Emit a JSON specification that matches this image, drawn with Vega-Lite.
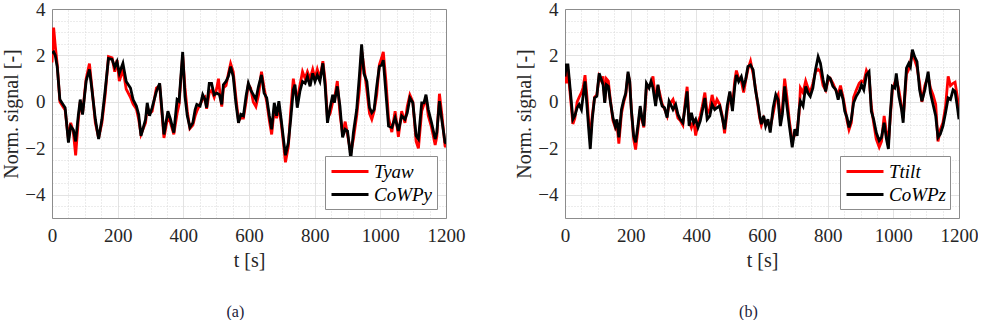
{
  "$schema": "https://vega.github.io/schema/vega-lite/v6.json",
  "padding": {"left": 1, "top": 0, "right": 0, "bottom": 0},
  "background": "white",
  "config": {
    "font": "Liberation Serif",
    "view": {"stroke": null},
    "axis": {"labelFont": "Liberation Serif", "titleFont": "Liberation Serif", "labelColor": "#262626", "titleColor": "#262626", "titleFontWeight": "normal", "domainColor": "#8c8c8c", "ticks": false, "tickSize": 0},
    "legend": {"orient": "bottom-right", "offset": 9, "fillColor": "white", "strokeColor": "#8c8c8c", "padding": 4, "labelFont": "Liberation Serif", "labelFontStyle": "italic", "labelFontSize": 19, "labelColor": "#000", "symbolType": "M-0.9,0L2.8,0", "symbolSize": 400, "symbolStrokeWidth": 3, "labelOffset": 22, "rowPadding": 1, "title": null, "labelLimit": 200}
  },
  "datasets": {
    "a": [
      {"s":"Tyaw","t":0,"v":1.7},{"s":"Tyaw","t":5,"v":3.2},{"s":"Tyaw","t":10,"v":2.4},{"s":"Tyaw","t":16,"v":1.6},{"s":"Tyaw","t":24,"v":0.0},{"s":"Tyaw","t":33,"v":-0.2},{"s":"Tyaw","t":40,"v":-0.35},{"s":"Tyaw","t":50,"v":-1.6},{"s":"Tyaw","t":57,"v":-0.9},{"s":"Tyaw","t":65,"v":-1.3},{"s":"Tyaw","t":72,"v":-2.3},{"s":"Tyaw","t":80,"v":-0.8},{"s":"Tyaw","t":86,"v":0.0},{"s":"Tyaw","t":93,"v":-0.5},{"s":"Tyaw","t":104,"v":1.0},{"s":"Tyaw","t":114,"v":1.65},{"s":"Tyaw","t":121,"v":0.7},{"s":"Tyaw","t":132,"v":-0.9},{"s":"Tyaw","t":142,"v":-1.55},{"s":"Tyaw","t":152,"v":-0.9},{"s":"Tyaw","t":162,"v":0.3},{"s":"Tyaw","t":172,"v":1.95},{"s":"Tyaw","t":183,"v":1.9},{"s":"Tyaw","t":191,"v":1.3},{"s":"Tyaw","t":198,"v":1.8},{"s":"Tyaw","t":205,"v":0.9},{"s":"Tyaw","t":216,"v":1.4},{"s":"Tyaw","t":226,"v":0.55},{"s":"Tyaw","t":239,"v":0.2},{"s":"Tyaw","t":247,"v":-0.1},{"s":"Tyaw","t":257,"v":-0.3},{"s":"Tyaw","t":264,"v":-0.75},{"s":"Tyaw","t":271,"v":-1.4},{"s":"Tyaw","t":285,"v":-0.9},{"s":"Tyaw","t":290,"v":-0.2},{"s":"Tyaw","t":297,"v":-0.5},{"s":"Tyaw","t":305,"v":-0.4},{"s":"Tyaw","t":318,"v":0.6},{"s":"Tyaw","t":328,"v":0.7},{"s":"Tyaw","t":341,"v":-1.55},{"s":"Tyaw","t":353,"v":-0.6},{"s":"Tyaw","t":361,"v":-0.9},{"s":"Tyaw","t":371,"v":-1.4},{"s":"Tyaw","t":381,"v":-0.5},{"s":"Tyaw","t":387,"v":-0.1},{"s":"Tyaw","t":398,"v":2.0},{"s":"Tyaw","t":405,"v":0.6},{"s":"Tyaw","t":412,"v":-0.4},{"s":"Tyaw","t":420,"v":-1.15},{"s":"Tyaw","t":429,"v":-1.0},{"s":"Tyaw","t":436,"v":-0.6},{"s":"Tyaw","t":441,"v":-0.4},{"s":"Tyaw","t":451,"v":-0.1},{"s":"Tyaw","t":459,"v":0.1},{"s":"Tyaw","t":466,"v":0.2},{"s":"Tyaw","t":471,"v":-0.3},{"s":"Tyaw","t":479,"v":0.4},{"s":"Tyaw","t":486,"v":0.5},{"s":"Tyaw","t":494,"v":0.2},{"s":"Tyaw","t":502,"v":0.6},{"s":"Tyaw","t":507,"v":1.0},{"s":"Tyaw","t":512,"v":0.3},{"s":"Tyaw","t":517,"v":-0.2},{"s":"Tyaw","t":522,"v":0.6},{"s":"Tyaw","t":530,"v":0.7},{"s":"Tyaw","t":537,"v":1.2},{"s":"Tyaw","t":544,"v":1.65},{"s":"Tyaw","t":552,"v":1.3},{"s":"Tyaw","t":560,"v":0.2},{"s":"Tyaw","t":568,"v":-0.8},{"s":"Tyaw","t":575,"v":-0.7},{"s":"Tyaw","t":583,"v":-0.7},{"s":"Tyaw","t":591,"v":0.0},{"s":"Tyaw","t":598,"v":0.75},{"s":"Tyaw","t":605,"v":0.6},{"s":"Tyaw","t":613,"v":0.0},{"s":"Tyaw","t":621,"v":-0.2},{"s":"Tyaw","t":629,"v":0.3},{"s":"Tyaw","t":638,"v":1.3},{"s":"Tyaw","t":646,"v":0.6},{"s":"Tyaw","t":654,"v":0.0},{"s":"Tyaw","t":662,"v":-0.8},{"s":"Tyaw","t":669,"v":-1.4},{"s":"Tyaw","t":677,"v":-0.3},{"s":"Tyaw","t":684,"v":-0.7},{"s":"Tyaw","t":691,"v":-0.2},{"s":"Tyaw","t":698,"v":-0.9},{"s":"Tyaw","t":705,"v":-1.8},{"s":"Tyaw","t":711,"v":-2.6},{"s":"Tyaw","t":720,"v":-1.9},{"s":"Tyaw","t":727,"v":-0.4},{"s":"Tyaw","t":735,"v":1.0},{"s":"Tyaw","t":740,"v":0.5},{"s":"Tyaw","t":747,"v":0.1},{"s":"Tyaw","t":755,"v":0.7},{"s":"Tyaw","t":763,"v":1.3},{"s":"Tyaw","t":771,"v":1.0},{"s":"Tyaw","t":778,"v":1.3},{"s":"Tyaw","t":786,"v":1.0},{"s":"Tyaw","t":794,"v":1.4},{"s":"Tyaw","t":801,"v":1.0},{"s":"Tyaw","t":808,"v":1.4},{"s":"Tyaw","t":816,"v":1.0},{"s":"Tyaw","t":825,"v":1.75},{"s":"Tyaw","t":832,"v":0.9},{"s":"Tyaw","t":839,"v":-0.7},{"s":"Tyaw","t":847,"v":-0.5},{"s":"Tyaw","t":855,"v":0.0},{"s":"Tyaw","t":860,"v":0.1},{"s":"Tyaw","t":869,"v":0.9},{"s":"Tyaw","t":877,"v":-0.5},{"s":"Tyaw","t":885,"v":-1.4},{"s":"Tyaw","t":893,"v":-0.85},{"s":"Tyaw","t":900,"v":-1.4},{"s":"Tyaw","t":910,"v":-2.2},{"s":"Tyaw","t":918,"v":-1.6},{"s":"Tyaw","t":928,"v":-0.6},{"s":"Tyaw","t":936,"v":0.5},{"s":"Tyaw","t":943,"v":2.2},{"s":"Tyaw","t":950,"v":1.5},{"s":"Tyaw","t":959,"v":0.5},{"s":"Tyaw","t":967,"v":-0.5},{"s":"Tyaw","t":974,"v":-0.75},{"s":"Tyaw","t":981,"v":-0.4},{"s":"Tyaw","t":989,"v":0.3},{"s":"Tyaw","t":997,"v":1.6},{"s":"Tyaw","t":1004,"v":1.9},{"s":"Tyaw","t":1009,"v":2.15},{"s":"Tyaw","t":1017,"v":0.9},{"s":"Tyaw","t":1025,"v":-0.7},{"s":"Tyaw","t":1035,"v":-1.3},{"s":"Tyaw","t":1045,"v":-0.4},{"s":"Tyaw","t":1055,"v":-1.5},{"s":"Tyaw","t":1065,"v":-0.4},{"s":"Tyaw","t":1075,"v":-0.9},{"s":"Tyaw","t":1082,"v":-0.2},{"s":"Tyaw","t":1090,"v":0.3},{"s":"Tyaw","t":1099,"v":0.0},{"s":"Tyaw","t":1109,"v":-1.7},{"s":"Tyaw","t":1116,"v":-2.0},{"s":"Tyaw","t":1126,"v":-0.4},{"s":"Tyaw","t":1133,"v":-0.1},{"s":"Tyaw","t":1139,"v":0.2},{"s":"Tyaw","t":1146,"v":-0.6},{"s":"Tyaw","t":1156,"v":-1.1},{"s":"Tyaw","t":1167,"v":-1.85},{"s":"Tyaw","t":1172,"v":-1.5},{"s":"Tyaw","t":1180,"v":0.35},{"s":"Tyaw","t":1187,"v":-0.5},{"s":"Tyaw","t":1197,"v":-1.9},{"s":"Tyaw","t":1200,"v":-1.95},
      {"s":"CoWPy","t":0,"v":2.1},{"s":"CoWPy","t":5,"v":2.15},{"s":"CoWPy","t":10,"v":2.0},{"s":"CoWPy","t":16,"v":1.5},{"s":"CoWPy","t":24,"v":0.1},{"s":"CoWPy","t":33,"v":-0.1},{"s":"CoWPy","t":40,"v":-0.25},{"s":"CoWPy","t":50,"v":-1.75},{"s":"CoWPy","t":57,"v":-1.05},{"s":"CoWPy","t":65,"v":-1.2},{"s":"CoWPy","t":72,"v":-1.7},{"s":"CoWPy","t":80,"v":-0.6},{"s":"CoWPy","t":86,"v":0.1},{"s":"CoWPy","t":93,"v":-0.55},{"s":"CoWPy","t":104,"v":0.9},{"s":"CoWPy","t":114,"v":1.4},{"s":"CoWPy","t":121,"v":0.6},{"s":"CoWPy","t":132,"v":-0.75},{"s":"CoWPy","t":142,"v":-1.6},{"s":"CoWPy","t":152,"v":-0.75},{"s":"CoWPy","t":162,"v":0.5},{"s":"CoWPy","t":172,"v":1.87},{"s":"CoWPy","t":183,"v":1.83},{"s":"CoWPy","t":191,"v":1.5},{"s":"CoWPy","t":198,"v":1.73},{"s":"CoWPy","t":205,"v":1.23},{"s":"CoWPy","t":216,"v":1.66},{"s":"CoWPy","t":226,"v":0.88},{"s":"CoWPy","t":239,"v":0.6},{"s":"CoWPy","t":247,"v":0.1},{"s":"CoWPy","t":257,"v":-0.18},{"s":"CoWPy","t":264,"v":-0.54},{"s":"CoWPy","t":271,"v":-1.46},{"s":"CoWPy","t":285,"v":-0.75},{"s":"CoWPy","t":290,"v":-0.04},{"s":"CoWPy","t":297,"v":-0.6},{"s":"CoWPy","t":305,"v":-0.25},{"s":"CoWPy","t":318,"v":0.45},{"s":"CoWPy","t":328,"v":0.8},{"s":"CoWPy","t":341,"v":-1.4},{"s":"CoWPy","t":353,"v":-0.4},{"s":"CoWPy","t":361,"v":-0.75},{"s":"CoWPy","t":371,"v":-1.32},{"s":"CoWPy","t":381,"v":0.1},{"s":"CoWPy","t":387,"v":0.03},{"s":"CoWPy","t":398,"v":2.15},{"s":"CoWPy","t":405,"v":0.24},{"s":"CoWPy","t":412,"v":-0.6},{"s":"CoWPy","t":420,"v":-1.1},{"s":"CoWPy","t":429,"v":-0.9},{"s":"CoWPy","t":436,"v":-0.33},{"s":"CoWPy","t":441,"v":-0.11},{"s":"CoWPy","t":451,"v":-0.18},{"s":"CoWPy","t":459,"v":0.31},{"s":"CoWPy","t":466,"v":0.1},{"s":"CoWPy","t":471,"v":-0.25},{"s":"CoWPy","t":479,"v":0.8},{"s":"CoWPy","t":486,"v":0.8},{"s":"CoWPy","t":494,"v":0.31},{"s":"CoWPy","t":502,"v":0.38},{"s":"CoWPy","t":510,"v":0.31},{"s":"CoWPy","t":517,"v":-0.11},{"s":"CoWPy","t":522,"v":0.74},{"s":"CoWPy","t":530,"v":0.88},{"s":"CoWPy","t":537,"v":1.09},{"s":"CoWPy","t":544,"v":1.52},{"s":"CoWPy","t":552,"v":1.09},{"s":"CoWPy","t":560,"v":-0.04},{"s":"CoWPy","t":568,"v":-0.9},{"s":"CoWPy","t":575,"v":-0.54},{"s":"CoWPy","t":583,"v":-0.6},{"s":"CoWPy","t":591,"v":0.24},{"s":"CoWPy","t":598,"v":0.8},{"s":"CoWPy","t":605,"v":0.52},{"s":"CoWPy","t":613,"v":0.31},{"s":"CoWPy","t":621,"v":0.1},{"s":"CoWPy","t":629,"v":0.67},{"s":"CoWPy","t":638,"v":1.16},{"s":"CoWPy","t":646,"v":0.38},{"s":"CoWPy","t":654,"v":0.17},{"s":"CoWPy","t":662,"v":-0.6},{"s":"CoWPy","t":669,"v":-1.18},{"s":"CoWPy","t":677,"v":-0.04},{"s":"CoWPy","t":684,"v":-0.6},{"s":"CoWPy","t":691,"v":0.03},{"s":"CoWPy","t":698,"v":-0.75},{"s":"CoWPy","t":705,"v":-1.6},{"s":"CoWPy","t":711,"v":-2.3},{"s":"CoWPy","t":720,"v":-1.74},{"s":"CoWPy","t":727,"v":-0.75},{"s":"CoWPy","t":735,"v":0.52},{"s":"CoWPy","t":740,"v":0.74},{"s":"CoWPy","t":747,"v":-0.25},{"s":"CoWPy","t":755,"v":0.45},{"s":"CoWPy","t":763,"v":0.88},{"s":"CoWPy","t":771,"v":0.8},{"s":"CoWPy","t":778,"v":1.09},{"s":"CoWPy","t":786,"v":0.67},{"s":"CoWPy","t":794,"v":1.23},{"s":"CoWPy","t":801,"v":0.88},{"s":"CoWPy","t":808,"v":1.16},{"s":"CoWPy","t":816,"v":0.88},{"s":"CoWPy","t":825,"v":1.66},{"s":"CoWPy","t":832,"v":0.67},{"s":"CoWPy","t":839,"v":-0.9},{"s":"CoWPy","t":847,"v":-0.25},{"s":"CoWPy","t":855,"v":0.31},{"s":"CoWPy","t":860,"v":-0.04},{"s":"CoWPy","t":869,"v":0.67},{"s":"CoWPy","t":877,"v":-0.18},{"s":"CoWPy","t":885,"v":-1.53},{"s":"CoWPy","t":893,"v":-1.18},{"s":"CoWPy","t":900,"v":-1.25},{"s":"CoWPy","t":910,"v":-2.45},{"s":"CoWPy","t":918,"v":-1.32},{"s":"CoWPy","t":928,"v":-0.33},{"s":"CoWPy","t":936,"v":1.09},{"s":"CoWPy","t":943,"v":2.48},{"s":"CoWPy","t":950,"v":1.23},{"s":"CoWPy","t":959,"v":0.88},{"s":"CoWPy","t":967,"v":-0.25},{"s":"CoWPy","t":974,"v":-0.47},{"s":"CoWPy","t":981,"v":-0.33},{"s":"CoWPy","t":989,"v":0.67},{"s":"CoWPy","t":997,"v":1.52},{"s":"CoWPy","t":1004,"v":1.59},{"s":"CoWPy","t":1009,"v":1.8},{"s":"CoWPy","t":1017,"v":0.38},{"s":"CoWPy","t":1025,"v":-1.04},{"s":"CoWPy","t":1035,"v":-1.1},{"s":"CoWPy","t":1045,"v":-0.68},{"s":"CoWPy","t":1055,"v":-1.25},{"s":"CoWPy","t":1065,"v":-0.6},{"s":"CoWPy","t":1075,"v":-0.75},{"s":"CoWPy","t":1082,"v":-0.47},{"s":"CoWPy","t":1090,"v":0.17},{"s":"CoWPy","t":1099,"v":-0.04},{"s":"CoWPy","t":1109,"v":-1.46},{"s":"CoWPy","t":1116,"v":-1.6},{"s":"CoWPy","t":1126,"v":-0.04},{"s":"CoWPy","t":1133,"v":-0.04},{"s":"CoWPy","t":1139,"v":0.31},{"s":"CoWPy","t":1146,"v":-0.33},{"s":"CoWPy","t":1156,"v":-0.9},{"s":"CoWPy","t":1167,"v":-1.6},{"s":"CoWPy","t":1172,"v":-1.32},{"s":"CoWPy","t":1180,"v":0.03},{"s":"CoWPy","t":1187,"v":-0.75},{"s":"CoWPy","t":1197,"v":-1.74},{"s":"CoWPy","t":1200,"v":-1.8}
    ],
    "b": [
      {"s":"Ttilt","t":0,"v":1.3},{"s":"Ttilt","t":4,"v":0.8},{"s":"Ttilt","t":9,"v":1.4},{"s":"Ttilt","t":16,"v":0.3},{"s":"Ttilt","t":24,"v":-0.95},{"s":"Ttilt","t":30,"v":-0.7},{"s":"Ttilt","t":37,"v":0.0},{"s":"Ttilt","t":43,"v":0.2},{"s":"Ttilt","t":50,"v":0.4},{"s":"Ttilt","t":55,"v":0.6},{"s":"Ttilt","t":61,"v":1.15},{"s":"Ttilt","t":67,"v":0.2},{"s":"Ttilt","t":73,"v":-1.0},{"s":"Ttilt","t":77,"v":-1.6},{"s":"Ttilt","t":83,"v":-0.6},{"s":"Ttilt","t":90,"v":0.2},{"s":"Ttilt","t":97,"v":0.3},{"s":"Ttilt","t":104,"v":1.1},{"s":"Ttilt","t":111,"v":0.9},{"s":"Ttilt","t":116,"v":1.1},{"s":"Ttilt","t":121,"v":0.0},{"s":"Ttilt","t":126,"v":1.0},{"s":"Ttilt","t":132,"v":0.9},{"s":"Ttilt","t":138,"v":0.1},{"s":"Ttilt","t":146,"v":-0.8},{"s":"Ttilt","t":153,"v":-1.1},{"s":"Ttilt","t":158,"v":-0.9},{"s":"Ttilt","t":164,"v":-1.8},{"s":"Ttilt","t":172,"v":-0.5},{"s":"Ttilt","t":179,"v":0.0},{"s":"Ttilt","t":185,"v":0.3},{"s":"Ttilt","t":192,"v":1.2},{"s":"Ttilt","t":197,"v":0.9},{"s":"Ttilt","t":202,"v":-0.3},{"s":"Ttilt","t":209,"v":-1.6},{"s":"Ttilt","t":215,"v":-2.05},{"s":"Ttilt","t":222,"v":-1.2},{"s":"Ttilt","t":229,"v":-0.3},{"s":"Ttilt","t":235,"v":-0.8},{"s":"Ttilt","t":240,"v":-1.1},{"s":"Ttilt","t":248,"v":0.6},{"s":"Ttilt","t":256,"v":0.7},{"s":"Ttilt","t":262,"v":0.7},{"s":"Ttilt","t":268,"v":1.1},{"s":"Ttilt","t":276,"v":0.0},{"s":"Ttilt","t":283,"v":0.7},{"s":"Ttilt","t":288,"v":0.4},{"s":"Ttilt","t":296,"v":-0.1},{"s":"Ttilt","t":303,"v":-0.3},{"s":"Ttilt","t":311,"v":-0.6},{"s":"Ttilt","t":317,"v":-0.1},{"s":"Ttilt","t":324,"v":0.0},{"s":"Ttilt","t":329,"v":0.1},{"s":"Ttilt","t":337,"v":-0.3},{"s":"Ttilt","t":344,"v":-0.7},{"s":"Ttilt","t":351,"v":-0.8},{"s":"Ttilt","t":359,"v":-1.0},{"s":"Ttilt","t":367,"v":0.1},{"s":"Ttilt","t":372,"v":0.65},{"s":"Ttilt","t":378,"v":-0.8},{"s":"Ttilt","t":385,"v":-1.1},{"s":"Ttilt","t":392,"v":-0.8},{"s":"Ttilt","t":398,"v":-1.45},{"s":"Ttilt","t":405,"v":-0.9},{"s":"Ttilt","t":412,"v":-0.6},{"s":"Ttilt","t":418,"v":-0.2},{"s":"Ttilt","t":426,"v":0.4},{"s":"Ttilt","t":433,"v":-0.5},{"s":"Ttilt","t":441,"v":-0.3},{"s":"Ttilt","t":448,"v":0.3},{"s":"Ttilt","t":456,"v":-0.2},{"s":"Ttilt","t":463,"v":0.1},{"s":"Ttilt","t":471,"v":-0.1},{"s":"Ttilt","t":479,"v":-0.6},{"s":"Ttilt","t":486,"v":-1.35},{"s":"Ttilt","t":494,"v":-0.4},{"s":"Ttilt","t":502,"v":0.4},{"s":"Ttilt","t":510,"v":-0.2},{"s":"Ttilt","t":517,"v":0.9},{"s":"Ttilt","t":522,"v":1.35},{"s":"Ttilt","t":529,"v":1.0},{"s":"Ttilt","t":537,"v":0.9},{"s":"Ttilt","t":544,"v":0.4},{"s":"Ttilt","t":550,"v":0.9},{"s":"Ttilt","t":557,"v":1.4},{"s":"Ttilt","t":565,"v":1.75},{"s":"Ttilt","t":573,"v":1.2},{"s":"Ttilt","t":580,"v":0.6},{"s":"Ttilt","t":588,"v":-0.2},{"s":"Ttilt","t":593,"v":-0.7},{"s":"Ttilt","t":598,"v":-1.0},{"s":"Ttilt","t":605,"v":-0.7},{"s":"Ttilt","t":611,"v":-0.9},{"s":"Ttilt","t":618,"v":-0.9},{"s":"Ttilt","t":625,"v":-1.1},{"s":"Ttilt","t":634,"v":-0.5},{"s":"Ttilt","t":642,"v":0.1},{"s":"Ttilt","t":649,"v":0.3},{"s":"Ttilt","t":656,"v":-0.8},{"s":"Ttilt","t":662,"v":-0.3},{"s":"Ttilt","t":669,"v":1.0},{"s":"Ttilt","t":676,"v":0.2},{"s":"Ttilt","t":684,"v":-0.9},{"s":"Ttilt","t":692,"v":-1.7},{"s":"Ttilt","t":700,"v":-1.4},{"s":"Ttilt","t":707,"v":-1.2},{"s":"Ttilt","t":713,"v":-0.5},{"s":"Ttilt","t":717,"v":0.6},{"s":"Ttilt","t":725,"v":0.4},{"s":"Ttilt","t":733,"v":0.9},{"s":"Ttilt","t":740,"v":0.6},{"s":"Ttilt","t":747,"v":0.4},{"s":"Ttilt","t":755,"v":0.8},{"s":"Ttilt","t":763,"v":1.3},{"s":"Ttilt","t":771,"v":1.4},{"s":"Ttilt","t":778,"v":1.3},{"s":"Ttilt","t":786,"v":0.7},{"s":"Ttilt","t":794,"v":0.5},{"s":"Ttilt","t":801,"v":0.9},{"s":"Ttilt","t":808,"v":1.0},{"s":"Ttilt","t":816,"v":0.8},{"s":"Ttilt","t":825,"v":0.5},{"s":"Ttilt","t":832,"v":0.3},{"s":"Ttilt","t":839,"v":0.7},{"s":"Ttilt","t":847,"v":0.2},{"s":"Ttilt","t":852,"v":-0.2},{"s":"Ttilt","t":859,"v":-0.8},{"s":"Ttilt","t":865,"v":-1.2},{"s":"Ttilt","t":872,"v":-0.9},{"s":"Ttilt","t":879,"v":0.2},{"s":"Ttilt","t":887,"v":0.5},{"s":"Ttilt","t":896,"v":0.8},{"s":"Ttilt","t":903,"v":0.9},{"s":"Ttilt","t":910,"v":0.85},{"s":"Ttilt","t":918,"v":1.35},{"s":"Ttilt","t":926,"v":1.1},{"s":"Ttilt","t":933,"v":-0.2},{"s":"Ttilt","t":940,"v":-0.9},{"s":"Ttilt","t":948,"v":-1.6},{"s":"Ttilt","t":957,"v":-1.95},{"s":"Ttilt","t":964,"v":-1.7},{"s":"Ttilt","t":972,"v":-0.6},{"s":"Ttilt","t":979,"v":-1.3},{"s":"Ttilt","t":985,"v":-1.8},{"s":"Ttilt","t":991,"v":-0.6},{"s":"Ttilt","t":997,"v":0.5},{"s":"Ttilt","t":1004,"v":0.8},{"s":"Ttilt","t":1009,"v":1.0},{"s":"Ttilt","t":1017,"v":0.5},{"s":"Ttilt","t":1025,"v":-0.2},{"s":"Ttilt","t":1030,"v":-0.7},{"s":"Ttilt","t":1035,"v":0.2},{"s":"Ttilt","t":1040,"v":1.2},{"s":"Ttilt","t":1047,"v":1.4},{"s":"Ttilt","t":1052,"v":1.7},{"s":"Ttilt","t":1058,"v":2.15},{"s":"Ttilt","t":1065,"v":1.8},{"s":"Ttilt","t":1072,"v":1.5},{"s":"Ttilt","t":1080,"v":0.8},{"s":"Ttilt","t":1087,"v":0.0},{"s":"Ttilt","t":1096,"v":0.7},{"s":"Ttilt","t":1106,"v":1.1},{"s":"Ttilt","t":1113,"v":0.6},{"s":"Ttilt","t":1121,"v":0.3},{"s":"Ttilt","t":1129,"v":-0.1},{"s":"Ttilt","t":1136,"v":-1.7},{"s":"Ttilt","t":1143,"v":-1.2},{"s":"Ttilt","t":1151,"v":-0.9},{"s":"Ttilt","t":1159,"v":-0.2},{"s":"Ttilt","t":1167,"v":1.1},{"s":"Ttilt","t":1174,"v":0.7},{"s":"Ttilt","t":1182,"v":0.8},{"s":"Ttilt","t":1188,"v":0.85},{"s":"Ttilt","t":1194,"v":0.3},{"s":"Ttilt","t":1200,"v":-0.3},
      {"s":"CoWPz","t":0,"v":1.09},{"s":"CoWPz","t":4,"v":1.59},{"s":"CoWPz","t":9,"v":1.59},{"s":"CoWPz","t":16,"v":0.52},{"s":"CoWPz","t":24,"v":-0.75},{"s":"CoWPz","t":30,"v":-0.6},{"s":"CoWPz","t":37,"v":-0.25},{"s":"CoWPz","t":43,"v":-0.11},{"s":"CoWPz","t":50,"v":-0.33},{"s":"CoWPz","t":55,"v":0.24},{"s":"CoWPz","t":61,"v":0.88},{"s":"CoWPz","t":67,"v":-0.18},{"s":"CoWPz","t":73,"v":-1.32},{"s":"CoWPz","t":77,"v":-2.03},{"s":"CoWPz","t":83,"v":-0.75},{"s":"CoWPz","t":90,"v":0.17},{"s":"CoWPz","t":97,"v":0.24},{"s":"CoWPz","t":104,"v":1.23},{"s":"CoWPz","t":111,"v":0.95},{"s":"CoWPz","t":116,"v":0.74},{"s":"CoWPz","t":121,"v":-0.04},{"s":"CoWPz","t":126,"v":0.74},{"s":"CoWPz","t":132,"v":0.67},{"s":"CoWPz","t":138,"v":0.03},{"s":"CoWPz","t":146,"v":-0.68},{"s":"CoWPz","t":153,"v":-1.04},{"s":"CoWPz","t":158,"v":-0.75},{"s":"CoWPz","t":164,"v":-1.53},{"s":"CoWPz","t":172,"v":-0.33},{"s":"CoWPz","t":179,"v":0.1},{"s":"CoWPz","t":185,"v":0.38},{"s":"CoWPz","t":192,"v":1.3},{"s":"CoWPz","t":197,"v":0.88},{"s":"CoWPz","t":202,"v":-0.33},{"s":"CoWPz","t":209,"v":-1.46},{"s":"CoWPz","t":215,"v":-1.74},{"s":"CoWPz","t":222,"v":-1.04},{"s":"CoWPz","t":229,"v":-0.18},{"s":"CoWPz","t":235,"v":-0.75},{"s":"CoWPz","t":240,"v":-1.04},{"s":"CoWPz","t":248,"v":0.8},{"s":"CoWPz","t":256,"v":0.6},{"s":"CoWPz","t":262,"v":0.88},{"s":"CoWPz","t":268,"v":0.6},{"s":"CoWPz","t":276,"v":-0.18},{"s":"CoWPz","t":283,"v":0.74},{"s":"CoWPz","t":288,"v":0.24},{"s":"CoWPz","t":296,"v":-0.18},{"s":"CoWPz","t":303,"v":-0.25},{"s":"CoWPz","t":311,"v":-0.68},{"s":"CoWPz","t":317,"v":0.03},{"s":"CoWPz","t":324,"v":-0.18},{"s":"CoWPz","t":329,"v":-0.33},{"s":"CoWPz","t":337,"v":-0.11},{"s":"CoWPz","t":344,"v":-0.54},{"s":"CoWPz","t":351,"v":-0.75},{"s":"CoWPz","t":359,"v":-0.9},{"s":"CoWPz","t":367,"v":-0.11},{"s":"CoWPz","t":372,"v":0.45},{"s":"CoWPz","t":378,"v":-1.04},{"s":"CoWPz","t":385,"v":-0.47},{"s":"CoWPz","t":392,"v":-0.9},{"s":"CoWPz","t":398,"v":-0.75},{"s":"CoWPz","t":405,"v":-1.1},{"s":"CoWPz","t":412,"v":-0.82},{"s":"CoWPz","t":418,"v":-0.4},{"s":"CoWPz","t":426,"v":0.17},{"s":"CoWPz","t":433,"v":-0.75},{"s":"CoWPz","t":441,"v":-0.6},{"s":"CoWPz","t":448,"v":-0.11},{"s":"CoWPz","t":456,"v":-0.33},{"s":"CoWPz","t":463,"v":-0.25},{"s":"CoWPz","t":471,"v":-0.18},{"s":"CoWPz","t":479,"v":-0.68},{"s":"CoWPz","t":486,"v":-1.18},{"s":"CoWPz","t":494,"v":-0.18},{"s":"CoWPz","t":502,"v":0.45},{"s":"CoWPz","t":510,"v":-0.4},{"s":"CoWPz","t":517,"v":0.67},{"s":"CoWPz","t":522,"v":1.16},{"s":"CoWPz","t":529,"v":0.88},{"s":"CoWPz","t":537,"v":1.09},{"s":"CoWPz","t":544,"v":0.67},{"s":"CoWPz","t":550,"v":0.95},{"s":"CoWPz","t":557,"v":1.52},{"s":"CoWPz","t":565,"v":1.59},{"s":"CoWPz","t":573,"v":1.38},{"s":"CoWPz","t":580,"v":0.52},{"s":"CoWPz","t":588,"v":-0.11},{"s":"CoWPz","t":593,"v":-0.6},{"s":"CoWPz","t":598,"v":-0.96},{"s":"CoWPz","t":605,"v":-0.6},{"s":"CoWPz","t":611,"v":-1.04},{"s":"CoWPz","t":618,"v":-0.75},{"s":"CoWPz","t":625,"v":-1.32},{"s":"CoWPz","t":634,"v":-0.25},{"s":"CoWPz","t":642,"v":0.31},{"s":"CoWPz","t":649,"v":0.1},{"s":"CoWPz","t":656,"v":-1.04},{"s":"CoWPz","t":662,"v":-0.54},{"s":"CoWPz","t":669,"v":0.67},{"s":"CoWPz","t":676,"v":-0.18},{"s":"CoWPz","t":684,"v":-1.1},{"s":"CoWPz","t":692,"v":-1.96},{"s":"CoWPz","t":700,"v":-1.18},{"s":"CoWPz","t":707,"v":-1.46},{"s":"CoWPz","t":713,"v":-0.33},{"s":"CoWPz","t":717,"v":0.03},{"s":"CoWPz","t":725,"v":-0.18},{"s":"CoWPz","t":733,"v":0.67},{"s":"CoWPz","t":740,"v":0.38},{"s":"CoWPz","t":747,"v":0.24},{"s":"CoWPz","t":755,"v":0.6},{"s":"CoWPz","t":763,"v":1.38},{"s":"CoWPz","t":771,"v":1.94},{"s":"CoWPz","t":778,"v":1.66},{"s":"CoWPz","t":786,"v":0.95},{"s":"CoWPz","t":794,"v":0.45},{"s":"CoWPz","t":801,"v":1.09},{"s":"CoWPz","t":808,"v":1.0},{"s":"CoWPz","t":816,"v":0.67},{"s":"CoWPz","t":825,"v":0.52},{"s":"CoWPz","t":832,"v":0.1},{"s":"CoWPz","t":839,"v":0.52},{"s":"CoWPz","t":847,"v":0.1},{"s":"CoWPz","t":852,"v":-0.4},{"s":"CoWPz","t":859,"v":-0.68},{"s":"CoWPz","t":865,"v":-1.1},{"s":"CoWPz","t":872,"v":-0.75},{"s":"CoWPz","t":879,"v":-0.04},{"s":"CoWPz","t":887,"v":0.24},{"s":"CoWPz","t":896,"v":0.45},{"s":"CoWPz","t":903,"v":0.74},{"s":"CoWPz","t":910,"v":0.52},{"s":"CoWPz","t":918,"v":1.16},{"s":"CoWPz","t":926,"v":1.3},{"s":"CoWPz","t":933,"v":-0.4},{"s":"CoWPz","t":940,"v":-0.75},{"s":"CoWPz","t":948,"v":-1.32},{"s":"CoWPz","t":957,"v":-1.67},{"s":"CoWPz","t":964,"v":-1.53},{"s":"CoWPz","t":972,"v":-0.9},{"s":"CoWPz","t":979,"v":-1.6},{"s":"CoWPz","t":985,"v":-2.03},{"s":"CoWPz","t":991,"v":-0.47},{"s":"CoWPz","t":997,"v":0.67},{"s":"CoWPz","t":1004,"v":0.6},{"s":"CoWPz","t":1009,"v":1.23},{"s":"CoWPz","t":1017,"v":0.24},{"s":"CoWPz","t":1025,"v":-0.33},{"s":"CoWPz","t":1030,"v":-0.9},{"s":"CoWPz","t":1035,"v":0.38},{"s":"CoWPz","t":1040,"v":1.45},{"s":"CoWPz","t":1047,"v":1.66},{"s":"CoWPz","t":1052,"v":1.52},{"s":"CoWPz","t":1058,"v":2.25},{"s":"CoWPz","t":1065,"v":1.94},{"s":"CoWPz","t":1072,"v":1.73},{"s":"CoWPz","t":1080,"v":0.52},{"s":"CoWPz","t":1087,"v":0.03},{"s":"CoWPz","t":1096,"v":0.52},{"s":"CoWPz","t":1106,"v":1.3},{"s":"CoWPz","t":1113,"v":0.38},{"s":"CoWPz","t":1121,"v":-0.11},{"s":"CoWPz","t":1129,"v":-0.6},{"s":"CoWPz","t":1136,"v":-1.53},{"s":"CoWPz","t":1143,"v":-1.39},{"s":"CoWPz","t":1151,"v":-1.04},{"s":"CoWPz","t":1159,"v":-0.47},{"s":"CoWPz","t":1167,"v":0.17},{"s":"CoWPz","t":1174,"v":0.1},{"s":"CoWPz","t":1182,"v":0.52},{"s":"CoWPz","t":1188,"v":0.45},{"s":"CoWPz","t":1194,"v":-0.11},{"s":"CoWPz","t":1200,"v":-0.75}
    ]
  },
  "hconcat": [
    {
      "width": 394, "height": 209,
      "data": {"name": "a"},
      "title": {"text": "(a)", "orient": "bottom", "offset": 34, "fontSize": 16, "font": "Liberation Serif", "fontWeight": "normal", "color": "#1a1a3a", "anchor": "middle", "frame": "bounds", "dx": 2},
      "layer": [
        {
          "transform": [{"filter": "datum.s == 'Tyaw'"}],
          "mark": {"type": "line", "strokeWidth": 2.8, "clip": true},
          "encoding": {
            "x": {"field": "t", "type": "quantitative", "scale": {"domain": [0, 1200], "nice": false, "zero": false},
              "axis": {"orient": "top", "values": [0,50,100,150,200,250,300,350,400,450,500,550,600,650,700,750,800,850,900,950,1000,1050,1100,1150,1200], "labels": false, "title": null, "grid": true, "gridColor": "#d9d9d9", "gridDash": [1, 2], "gridWidth": 1}},
            "y": {"field": "v", "type": "quantitative", "scale": {"domain": [-5, 4], "nice": false, "zero": false},
              "axis": {"orient": "right", "values": [-5,-4.5,-4,-3.5,-3,-2.5,-2,-1.5,-1,-0.5,0,0.5,1,1.5,2,2.5,3,3.5,4], "labels": false, "title": null, "grid": true, "gridColor": "#d9d9d9", "gridDash": [1, 2], "gridWidth": 1}},
            "color": {"field": "s", "type": "nominal", "scale": {"domain": ["Tyaw", "CoWPy"], "range": ["#ff0000", "#000000"]}}
          }
        },
        {
          "transform": [{"filter": "datum.s == 'CoWPy'"}],
          "mark": {"type": "line", "strokeWidth": 2.8, "clip": true},
          "encoding": {
            "x": {"field": "t", "type": "quantitative", "scale": {"domain": [0, 1200], "nice": false, "zero": false},
              "axis": {"orient": "bottom", "values": [0,200,400,600,800,1000,1200], "format": "d", "labelFontSize": 19, "labelPadding": 8, "title": "t [s]", "titleFontSize": 20, "titlePadding": 5, "grid": true, "gridColor": "#e3e3e3", "gridWidth": 1, "labelFlush": false}},
            "y": {"field": "v", "type": "quantitative", "scale": {"domain": [-5, 4], "nice": false, "zero": false},
              "axis": {"orient": "left", "values": [-4,-2,0,2,4], "format": "d", "labelFontSize": 19, "labelPadding": 7, "title": "Norm. signal [-]", "titleFontSize": 20, "titlePadding": 3, "grid": true, "gridColor": "#e3e3e3", "gridWidth": 1, "labelFlush": false}},
            "color": {"field": "s", "type": "nominal", "scale": {"domain": ["Tyaw", "CoWPy"], "range": ["#ff0000", "#000000"]}}
          }
        }
      ],
      "resolve": {"axis": {"x": "independent", "y": "independent"}}
    },
    {
      "width": 394, "height": 209,
      "data": {"name": "b"},
      "title": {"text": "(b)", "orient": "bottom", "offset": 34, "fontSize": 16, "font": "Liberation Serif", "fontWeight": "normal", "color": "#1a1a3a", "anchor": "middle", "frame": "bounds", "dx": 2},
      "layer": [
        {
          "transform": [{"filter": "datum.s == 'Ttilt'"}],
          "mark": {"type": "line", "strokeWidth": 2.8, "clip": true},
          "encoding": {
            "x": {"field": "t", "type": "quantitative", "scale": {"domain": [0, 1200], "nice": false, "zero": false},
              "axis": {"orient": "top", "values": [0,50,100,150,200,250,300,350,400,450,500,550,600,650,700,750,800,850,900,950,1000,1050,1100,1150,1200], "labels": false, "title": null, "grid": true, "gridColor": "#d9d9d9", "gridDash": [1, 2], "gridWidth": 1}},
            "y": {"field": "v", "type": "quantitative", "scale": {"domain": [-5, 4], "nice": false, "zero": false},
              "axis": {"orient": "right", "values": [-5,-4.5,-4,-3.5,-3,-2.5,-2,-1.5,-1,-0.5,0,0.5,1,1.5,2,2.5,3,3.5,4], "labels": false, "title": null, "grid": true, "gridColor": "#d9d9d9", "gridDash": [1, 2], "gridWidth": 1}},
            "color": {"field": "s", "type": "nominal", "scale": {"domain": ["Ttilt", "CoWPz"], "range": ["#ff0000", "#000000"]}}
          }
        },
        {
          "transform": [{"filter": "datum.s == 'CoWPz'"}],
          "mark": {"type": "line", "strokeWidth": 2.8, "clip": true},
          "encoding": {
            "x": {"field": "t", "type": "quantitative", "scale": {"domain": [0, 1200], "nice": false, "zero": false},
              "axis": {"orient": "bottom", "values": [0,200,400,600,800,1000,1200], "format": "d", "labelFontSize": 19, "labelPadding": 8, "title": "t [s]", "titleFontSize": 20, "titlePadding": 5, "grid": true, "gridColor": "#e3e3e3", "gridWidth": 1, "labelFlush": false}},
            "y": {"field": "v", "type": "quantitative", "scale": {"domain": [-5, 4], "nice": false, "zero": false},
              "axis": {"orient": "left", "values": [-4,-2,0,2,4], "format": "d", "labelFontSize": 19, "labelPadding": 7, "title": "Norm. signal [-]", "titleFontSize": 20, "titlePadding": 3, "grid": true, "gridColor": "#e3e3e3", "gridWidth": 1, "labelFlush": false}},
            "color": {"field": "s", "type": "nominal", "scale": {"domain": ["Ttilt", "CoWPz"], "range": ["#ff0000", "#000000"]}}
          }
        }
      ],
      "resolve": {"axis": {"x": "independent", "y": "independent"}}
    }
  ],
  "spacing": 49,
  "resolve": {"scale": {"color": "independent"}, "legend": {"color": "independent"}}
}
